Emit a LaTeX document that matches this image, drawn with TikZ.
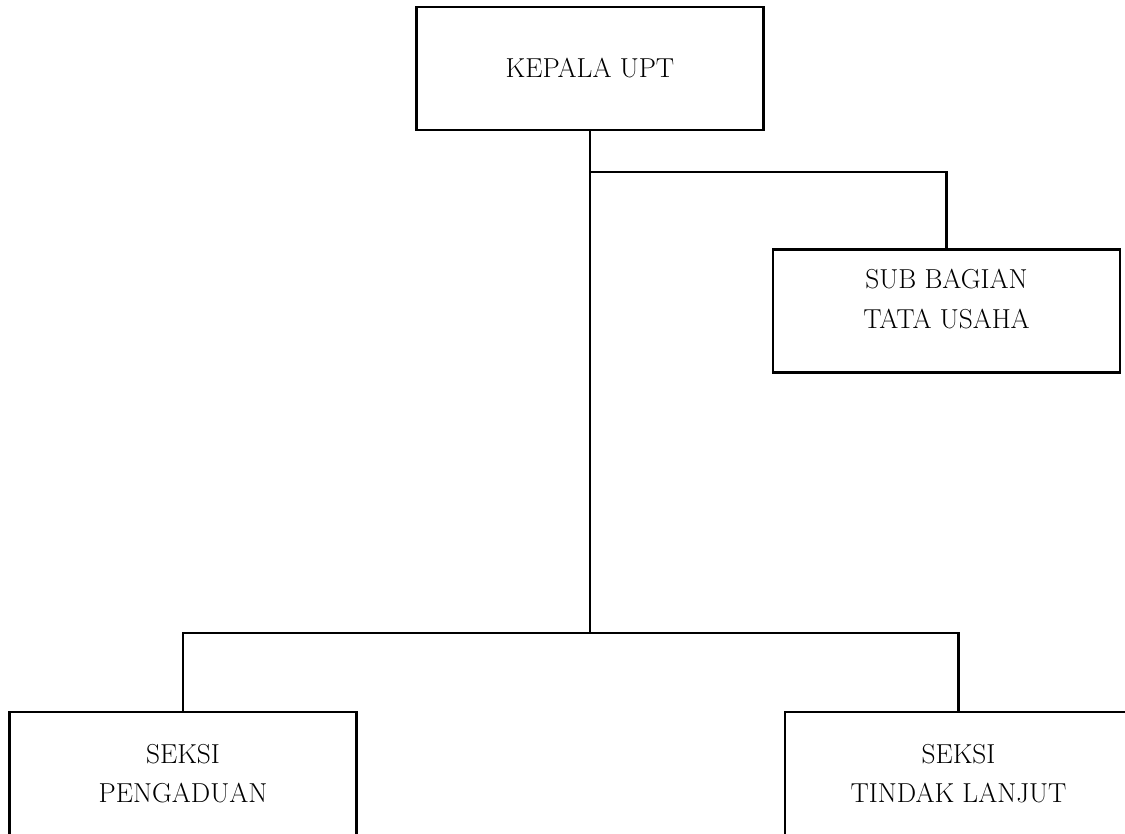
\documentclass[tikz,border=0pt]{standalone}
\tikzset{
  unit/.style={draw, line width=1.6pt, minimum width=6.94cm, minimum height=2.46cm,
    align=center, font=\fontsize{15.6}{22.5}\selectfont},
  link/.style={line width=1.6pt}
}
\begin{document}
\begin{tikzpicture}[x=0.02cm,y=-0.02cm]
    \useasboundingbox (0,0) rectangle (1125,833);
    \clip (0,0) rectangle (1125,833);
    \node[unit] (kepala) at (590,68.5) {KEPALA UPT};
    \node[unit] (tatausaha) at (946.5,311) {SUB BAGIAN\\TATA USAHA\rule[-14pt]{0pt}{0pt}};
    \node[unit] (pengaduan) at (183,773.5) {SEKSI\\PENGADUAN};
    \node[unit] (tindaklanjut) at (958.5,773.5) {SEKSI\\TINDAK LANJUT};
    \coordinate (split) at (590,172);
    \coordinate (join) at (590,633);
    \draw[link] (kepala.south) -- (join);
    \draw[link] (split) -| (tatausaha.north);
    \draw[link] (join) -| (pengaduan.north);
    \draw[link] (join) -| (tindaklanjut.north);
\end{tikzpicture}
\end{document}
